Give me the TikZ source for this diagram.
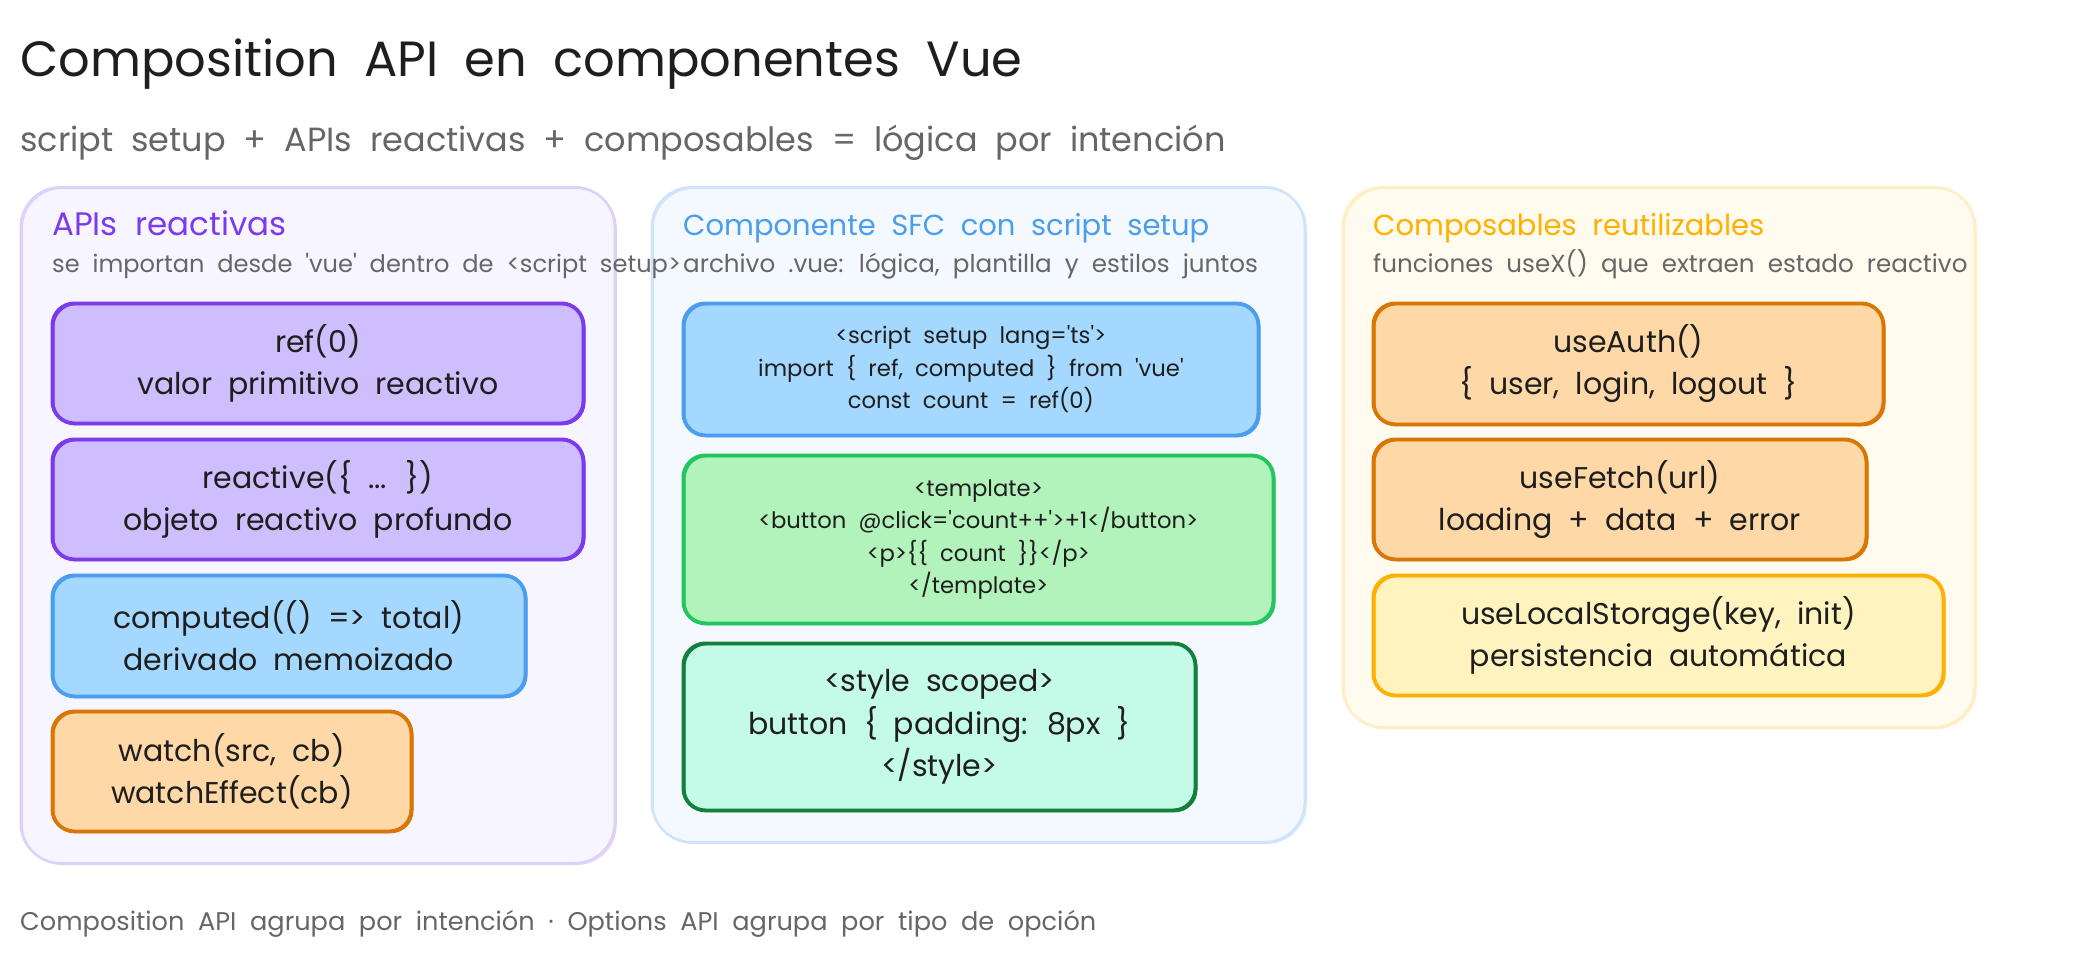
\documentclass[tikz,border=0pt]{standalone}
\usepackage{fontspec}
\newfontfamily\handfont{Poppins}[WordSpace=2]
\definecolor{inkblack}{HTML}{1E1E1E}
\definecolor{inkgrey}{HTML}{666666}
\definecolor{violetline}{HTML}{7C3AED}
\definecolor{violetfill}{HTML}{CEBEFD}
\definecolor{violetpanel}{HTML}{F7F5FF}
\definecolor{violetedge}{HTML}{DDD0FA}
\definecolor{blueline}{HTML}{4A9EED}
\definecolor{bluefill}{HTML}{A5D8FF}
\definecolor{bluepanel}{HTML}{F4F8FF}
\definecolor{blueedge}{HTML}{CFE4FB}
\definecolor{greenline}{HTML}{22C55E}
\definecolor{greenfill}{HTML}{B2F2BB}
\definecolor{pineline}{HTML}{15803D}
\definecolor{pinefill}{HTML}{C3FAE8}
\definecolor{orangeline}{HTML}{D97706}
\definecolor{orangefill}{HTML}{FFD8A8}
\definecolor{amberline}{HTML}{FFB000}
\definecolor{amberfill}{HTML}{FFF3BF}
\definecolor{amberpanel}{HTML}{FFFBEE}
\definecolor{amberedge}{HTML}{FFEDC4}
\tikzset{
  sketch/.style={rounded corners=#1,
    postaction={draw,line width=1.2pt,transform canvas={shift={(1.5pt,-1.2pt)}}}},
  panelbox/.style n args={2}{anchor=north west,inner sep=0pt,draw=#1,fill=#2,line width=2.4pt,sketch=40pt,xshift=-0.5pt},
  cardbox/.style n args={2}{anchor=north west,inner sep=0pt,draw=#1,fill=#2,line width=3.8pt,sketch=22pt,align=center,text=inkblack,xshift=-1.5pt,yshift=0.5pt},
  plaintext/.style={anchor=base west,inner sep=0pt},
  headfont/.style={font=\handfont\fontsize{29}{36}\selectfont},
  notefont/.style={font=\handfont\fontsize{24.6}{30}\selectfont},
  cardfont/.style={font=\handfont\fontsize{30}{42}\selectfont},
  codefont/.style={font=\handfont\fontsize{22.7}{32.5}\selectfont},
  stylefont/.style={font=\handfont\fontsize{30}{42.5}\selectfont},
}
\begin{document}
\begin{tikzpicture}[x=1pt,y=-1pt]
\useasboundingbox (0,0) rectangle (2080,959);
\fill[white] (0,0) rectangle (2080,959);
% Headings
\node[plaintext,text=inkblack,font=\handfont\fontsize{49.5}{56}\selectfont] (title) at (20,76) {Composition API en componentes Vue};
\node[plaintext,text=inkgrey,font=\handfont\fontsize{33.5}{40}\selectfont] (subtitle) at (20,151) {script setup + APIs reactivas + composables = lógica por intención};
% Panels
\node[panelbox={violetedge}{violetpanel},minimum width=594pt,minimum height=676pt] (apipanel) at (20,186) {};
\node[panelbox={blueedge}{bluepanel},minimum width=653pt,minimum height=655pt] (sfcpanel) at (651,186) {};
\node[panelbox={amberedge}{amberpanel},minimum width=632pt,minimum height=540pt] (usepanel) at (1342,186) {};
% Panel 1: APIs reactivas
\node[plaintext,text=violetline,font=\handfont\fontsize{32.5}{36}\selectfont] (apihead) at (52,235) {APIs reactivas};
\node[plaintext,text=inkgrey,font=\handfont\fontsize{24.1}{30}\selectfont] (apinote) at (52,272) {se importan desde 'vue' dentro de <script setup>};
\node[cardbox={violetline}{violetfill},cardfont,minimum width=531pt,minimum height=120pt] (refcard) at (52,302) {ref(0)\\valor primitivo reactivo};
\node[cardbox={violetline}{violetfill},cardfont,minimum width=531pt,minimum height=120pt] (reactivecard) at (52,438) {reactive(\{ ... \})\\objeto reactivo profundo};
\node[cardbox={blueline}{bluefill},cardfont,minimum width=473pt,minimum height=121pt] (computedcard) at (52,574) {computed(() => total)\\derivado memoizado};
\node[cardbox={orangeline}{orangefill},cardfont,minimum width=359pt,minimum height=120pt] (watchcard) at (52,710) {watch(src, cb)\\watchEffect(cb)};
% Panel 2: Componente SFC
\node[plaintext,text=blueline,headfont] (sfchead) at (683,235) {Componente SFC con script setup};
\node[plaintext,text=inkgrey,notefont] (sfcnote) at (683,272) {archivo .vue: lógica, plantilla y estilos juntos};
\node[cardbox={blueline}{bluefill},codefont,minimum width=575pt,minimum height=132pt] (scriptcard) at (683,302) {<script setup lang='ts'>\\import \{ ref, computed \} from 'vue'\\const count = ref(0)};
\node[cardbox={greenline}{greenfill},codefont,minimum width=590pt,minimum height=168pt] (templatecard) at (683,454) {<template>\\<button @click='count++'>+1</button>\\<p>\{\{ count \}\}</p>\\</template>};
\node[cardbox={pineline}{pinefill},stylefont,minimum width=512pt,minimum height=167pt] (stylecard) at (683,642) {<style scoped>\\button \{ padding: 8px \}\\</style>};
% Panel 3: Composables
\node[plaintext,text=amberline,headfont] (usehead) at (1373,235) {Composables reutilizables};
\node[plaintext,text=inkgrey,notefont] (usenote) at (1373,272) {funciones useX() que extraen estado reactivo};
\node[cardbox={orangeline}{orangefill},cardfont,minimum width=510pt,minimum height=121pt] (authcard) at (1373,302) {useAuth()\\\{ user, login, logout \}};
\node[cardbox={orangeline}{orangefill},cardfont,minimum width=493pt,minimum height=120pt] (fetchcard) at (1373,438) {useFetch(url)\\loading + data + error};
\node[cardbox={amberline}{amberfill},cardfont,minimum width=570pt,minimum height=120pt] (storagecard) at (1373,574) {useLocalStorage(key, init)\\persistencia automática};
% Footer
\node[plaintext,text=inkgrey,font=\handfont\fontsize{25.6}{32}\selectfont] (footer) at (20,930) {Composition API agrupa por intención · Options API agrupa por tipo de opción};
\end{tikzpicture}
\end{document}
